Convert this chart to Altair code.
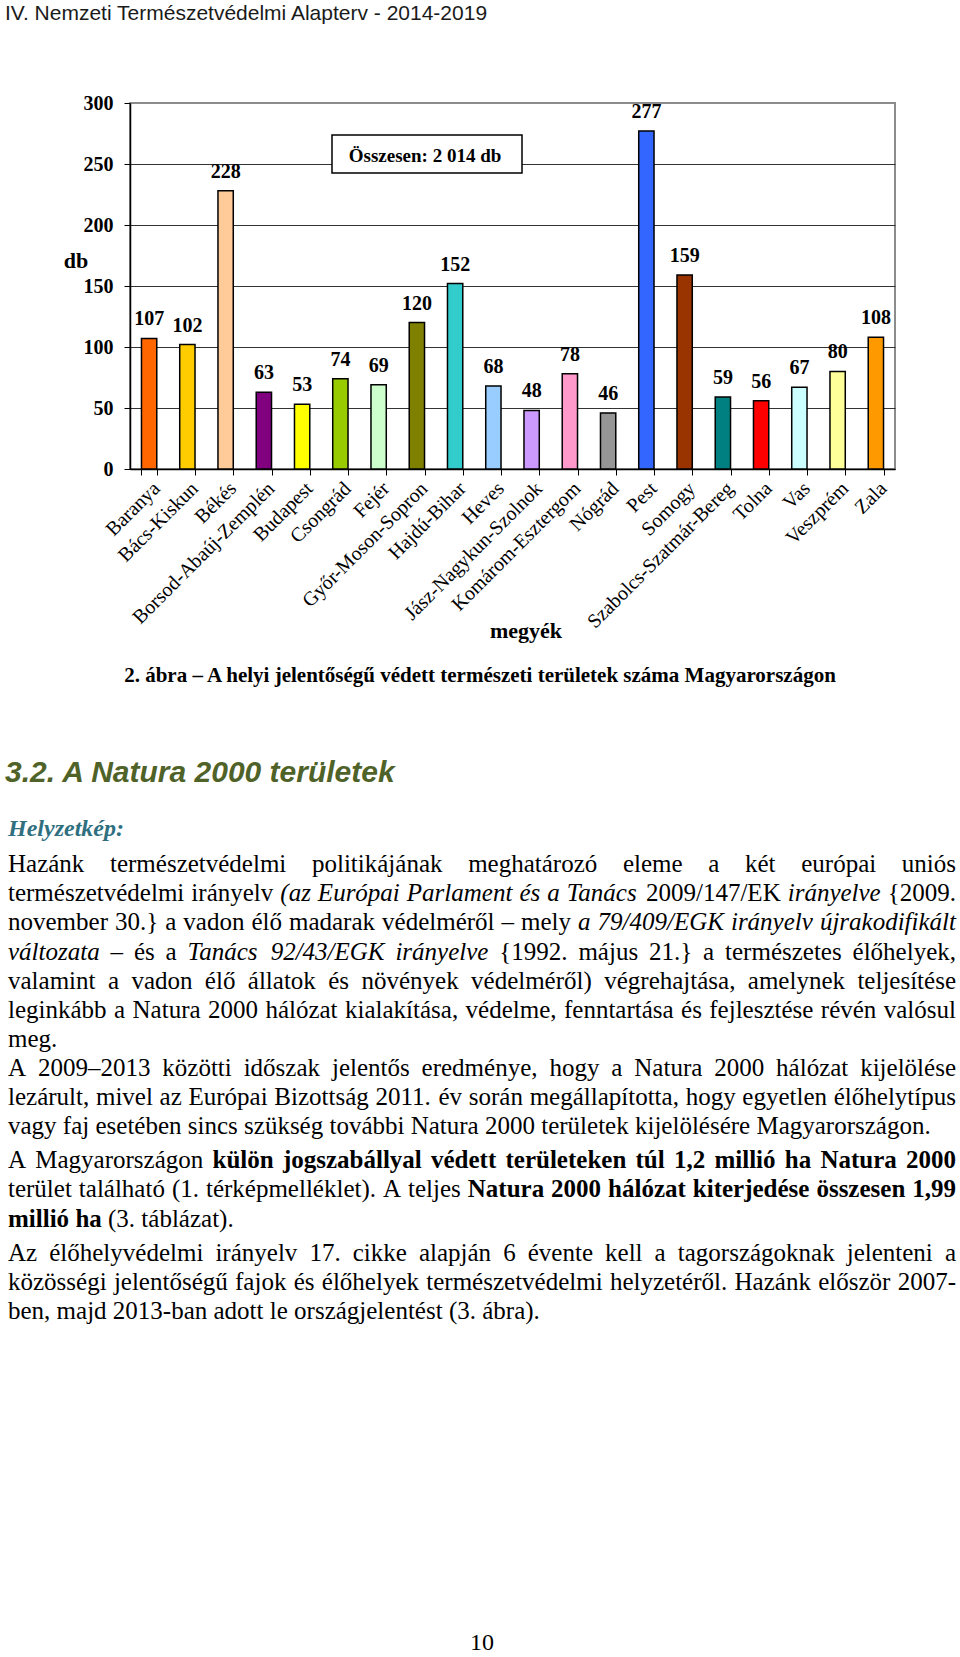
import unicodedata
import altair as alt
import pandas as pd

# ---------------- data ----------------
counties = ["Baranya", "Bács-Kiskun", "Békés", "Borsod-Abaúj-Zemplén", "Budapest",
            "Csongrád", "Fejér", "Győr-Moson-Sopron", "Hajdú-Bihar", "Heves",
            "Jász-Nagykun-Szolnok", "Komárom-Esztergom", "Nógrád", "Pest", "Somogy",
            "Szabolcs-Szatmár-Bereg", "Tolna", "Vas", "Veszprém", "Zala"]
counts = [107, 102, 228, 63, 53, 74, 69, 120, 152, 68, 48, 78, 46, 277, 159, 59, 56, 67, 80, 108]
bar_colors = ["#FF6600", "#FFCC00", "#FFCC99", "#800080", "#FFFF00", "#99CC00", "#CCFFCC",
              "#808000", "#33CCCC", "#99CCFF", "#CC99FF", "#FF99CC", "#969696", "#3366FF",
              "#993300", "#008080", "#FF0000", "#CCFFFF", "#FFFF99", "#FF9900"]
y_ticks = [0, 50, 100, 150, 200, 250, 300]

header_text = "IV. Nemzeti Természetvédelmi Alapterv - 2014-2019"
total_label = "Összesen: 2 014 db"
y_title = "db"
x_title = "megyék"
caption = "2. ábra – A helyi jelentőségű védett természeti területek száma Magyarországon"
section_title = "3.2. A Natura 2000 területek"
subhead = "Helyzetkép:"
page_number = "10"

body_lines = [
    [("r", "Hazánk természetvédelmi politikájának meghatározó eleme a két európai uniós")],
    [("r", "természetvédelmi irányelv"), ("i", "(az Európai Parlament és a Tanács"), ("r", "2009/147/EK"),
     ("i", "irányelve"), ("r", "{2009.")],
    [("r", "november 30.} a vadon élő madarak védelméről – mely"), ("i", "a 79/409/EGK irányelv újrakodifikált")],
    [("i", "változata"), ("r", "– és a"), ("i", "Tanács 92/43/EGK irányelve"),
     ("r", "{1992. május 21.} a természetes élőhelyek,")],
    [("r", "valamint a vadon élő állatok és növények védelméről) végrehajtása, amelynek teljesítése")],
    [("r", "leginkább a Natura 2000 hálózat kialakítása, védelme, fenntartása és fejlesztése révén valósul")],
    [("r", "meg.")],
    [("r", "A 2009–2013 közötti időszak jelentős eredménye, hogy a Natura 2000 hálózat kijelölése")],
    [("r", "lezárult, mivel az Európai Bizottság 2011. év során megállapította, hogy egyetlen élőhelytípus")],
    [("r", "vagy faj esetében sincs szükség további Natura 2000 területek kijelölésére Magyarországon.")],
    [("r", "A Magyarországon"), ("b", "külön jogszabállyal védett területeken túl 1,2 millió ha Natura 2000")],
    [("r", "terület található (1. térképmelléklet). A teljes"), ("b", "Natura 2000 hálózat kiterjedése összesen 1,99")],
    [("b", "millió ha"), ("r", "(3. táblázat).")],
    [("r", "Az élőhelyvédelmi irányelv 17. cikke alapján 6 évente kell a tagországoknak jelenteni a")],
    [("r", "közösségi jelentőségű fajok és élőhelyek természetvédelmi helyzetéről. Hazánk először 2007-")],
    [("r", "ben, majd 2013-ban adott le országjelentést (3. ábra).")],
]
body_justified = [True, True, True, True, True, True, False, True, True, False,
                  True, True, False, True, True, False]

# ---------------- layout ----------------
PAGE_W, PAGE_H = 960, 1657
PLOT_L, PLOT_T, PLOT_W, PLOT_H = 130, 103, 765, 366
SERIF = "Liberation Serif"
SANS = "Liberation Sans"
BODY_SIZE = 25
BODY_L, BODY_R = 8, 956
LINE_Y = [872, 901, 930, 959.5, 988.5, 1017.5, 1046.5, 1075.5, 1104.5, 1133.5,
          1167.5, 1197, 1226.5, 1261, 1290, 1319]

# Times metrics (Liberation Serif is metric compatible), per 1000 em
LOW = "abcdefghijklmnopqrstuvwxyz"
UP = "ABCDEFGHIJKLMNOPQRSTUVWXYZ"
METRICS = {
    "r": (
        [444, 500, 444, 500, 444, 333, 500, 500, 278, 278, 500, 278, 778, 500, 500, 500, 500, 333, 389, 278, 500, 500, 722, 500, 500, 444],
        [722, 667, 667, 722, 611, 556, 722, 722, 333, 389, 722, 611, 889, 722, 722, 556, 722, 667, 556, 611, 722, 722, 944, 722, 722, 611],
        {"{": 480, "}": 480, ":": 278, ";": 278}),
    "i": (
        [500, 500, 444, 500, 444, 278, 500, 500, 278, 278, 444, 278, 722, 500, 500, 500, 500, 389, 389, 278, 500, 444, 667, 444, 444, 389],
        [611, 611, 667, 722, 611, 611, 722, 722, 333, 444, 667, 556, 833, 667, 722, 611, 722, 611, 500, 556, 722, 611, 833, 611, 556, 556],
        {"{": 400, "}": 400, ":": 333, ";": 333}),
    "b": (
        [500, 556, 444, 556, 444, 333, 500, 556, 278, 333, 556, 278, 833, 556, 500, 556, 556, 444, 389, 333, 556, 500, 722, 500, 500, 444],
        [722, 667, 722, 722, 667, 611, 778, 778, 389, 500, 778, 667, 944, 722, 778, 611, 778, 722, 556, 667, 722, 722, 1000, 722, 722, 667],
        {"{": 394, "}": 394, ":": 333, ";": 333}),
}
COMMON = {" ": 250, ".": 250, ",": 250, "-": 333, "/": 278, "(": 333, ")": 333, "–": 500}


def char_w(ch, style):
    low, up, extra = METRICS[style]
    base = unicodedata.normalize("NFD", ch)[0]
    if base in LOW:
        return low[LOW.index(base)]
    if base in UP:
        return up[UP.index(base)]
    if base.isdigit():
        return 500
    if base in extra:
        return extra[base]
    return COMMON.get(base, 500)


def text_w(s, style, size):
    return sum(char_w(c, style) for c in s) * size / 1000.0


rows = []
for line, just, ly in zip(body_lines, body_justified, LINE_Y):
    words = [(w, st) for st, seg in line for w in seg.split(" ")]
    widths = [text_w(w, st, BODY_SIZE) for w, st in words]
    if just and len(words) > 1:
        gap = (BODY_R - BODY_L - sum(widths)) / (len(words) - 1)
    else:
        gap = 250 * BODY_SIZE / 1000.0
    x = BODY_L
    for (w, st), wd in zip(words, widths):
        rows.append({"px": x, "py": ly, "text": w, "style": st})
        x += wd + gap
body_df = pd.DataFrame(rows)

# ---------------- chart ----------------
df = pd.DataFrame({"county": counties, "count": counts, "color": bar_colors})

x_enc = alt.X("county:N", sort=counties,
              scale=alt.Scale(paddingInner=0.6, paddingOuter=0.3),
              axis=alt.Axis(title=None, labelAngle=-45, labelFont=SERIF, labelFontSize=20,
                            labelColor="black", tickBand="extent", tickSize=6, tickColor="black",
                            tickWidth=1, domainColor="black", domainWidth=1.5, labelPadding=3,
                            labelLimit=400, labelOverlap=False))
y_enc = alt.Y("count:Q", scale=alt.Scale(domain=[0, 300], nice=False),
              axis=alt.Axis(values=y_ticks, title=None, labelFont=SERIF, labelFontWeight="bold",
                            labelFontSize=20, labelColor="black", tickSize=6, tickColor="black",
                            domainColor="black", domainWidth=1.5, labelPadding=11, grid=True,
                            gridColor={"condition": {"test": "datum.value === 300", "value": "#8c8c8c"},
                                       "value": "#333333"},
                            gridWidth=1))

bars = alt.Chart(df).mark_bar(stroke="black", strokeWidth=1.5).encode(
    x=x_enc, y=y_enc, color=alt.Color("color:N", scale=None))
labels = alt.Chart(df).mark_text(font=SERIF, fontWeight="bold", fontSize=20, baseline="alphabetic",
                                 dy=-13, color="black").encode(
    x=alt.X("county:N", sort=counties), y="count:Q", text="count:Q")
box = alt.Chart(pd.DataFrame({"k": [0]})).mark_rect(fill="white", stroke="black", strokeWidth=1.5).encode(
    x=alt.value(332 - PLOT_L), x2=alt.value(522 - PLOT_L),
    y=alt.value(135 - PLOT_T), y2=alt.value(173 - PLOT_T))
core = alt.layer(bars, labels, box)


def page_text(data, font, size, weight="normal", style="normal", color="black", align="left"):
    return alt.Chart(data).mark_text(font=font, fontSize=size, fontWeight=weight, fontStyle=style,
                                     color=color, align=align, baseline="alphabetic").encode(
        x=alt.X("px:Q", scale=alt.Scale(domain=[PLOT_L, PLOT_L + PLOT_W], nice=False, zero=False), axis=None),
        y=alt.Y("py:Q", scale=alt.Scale(domain=[PLOT_T, PLOT_T + PLOT_H], reverse=True, nice=False, zero=False),
                axis=None),
        text="text:N")


def one(t, x, y):
    return pd.DataFrame({"px": [x], "py": [y], "text": [t]})


layers = [
    core,
    page_text(one(header_text, 5, 20), SANS, 21, color="#1a1a1a"),
    page_text(one(total_label, 425, 162), SERIF, 19, weight="bold", align="center"),
    page_text(pd.concat([one(y_title, 76, 268), one(x_title, 526, 638)]), SERIF, 22, weight="bold", align="center"),
    page_text(one(caption, 480, 682), SERIF, 21, weight="bold", align="center"),
    page_text(one(section_title, 5, 782), SANS, 30, weight="bold", style="italic", color="#4F6228"),
    page_text(one(subhead, 8, 836), SERIF, 24, weight="bold", style="italic", color="#2F6F80"),
    page_text(body_df[body_df["style"] == "r"], SERIF, BODY_SIZE),
    page_text(body_df[body_df["style"] == "i"], SERIF, BODY_SIZE, style="italic"),
    page_text(body_df[body_df["style"] == "b"], SERIF, BODY_SIZE, weight="bold"),
    page_text(one(page_number, 482, 1650), SERIF, 24, align="center"),
]

chart = alt.layer(*layers).resolve_scale(x="independent", y="independent").properties(
    width=PLOT_W, height=PLOT_H,
    padding={"left": PLOT_L, "top": PLOT_T, "right": PAGE_W - PLOT_L - PLOT_W,
             "bottom": PAGE_H - PLOT_T - PLOT_H},
    autosize=alt.AutoSizeParams(type="none"),
    background="white",
).configure_view(stroke="#8c8c8c", strokeWidth=2)

chart.save("out.html", embed_options={"renderer": "svg", "actions": False})
